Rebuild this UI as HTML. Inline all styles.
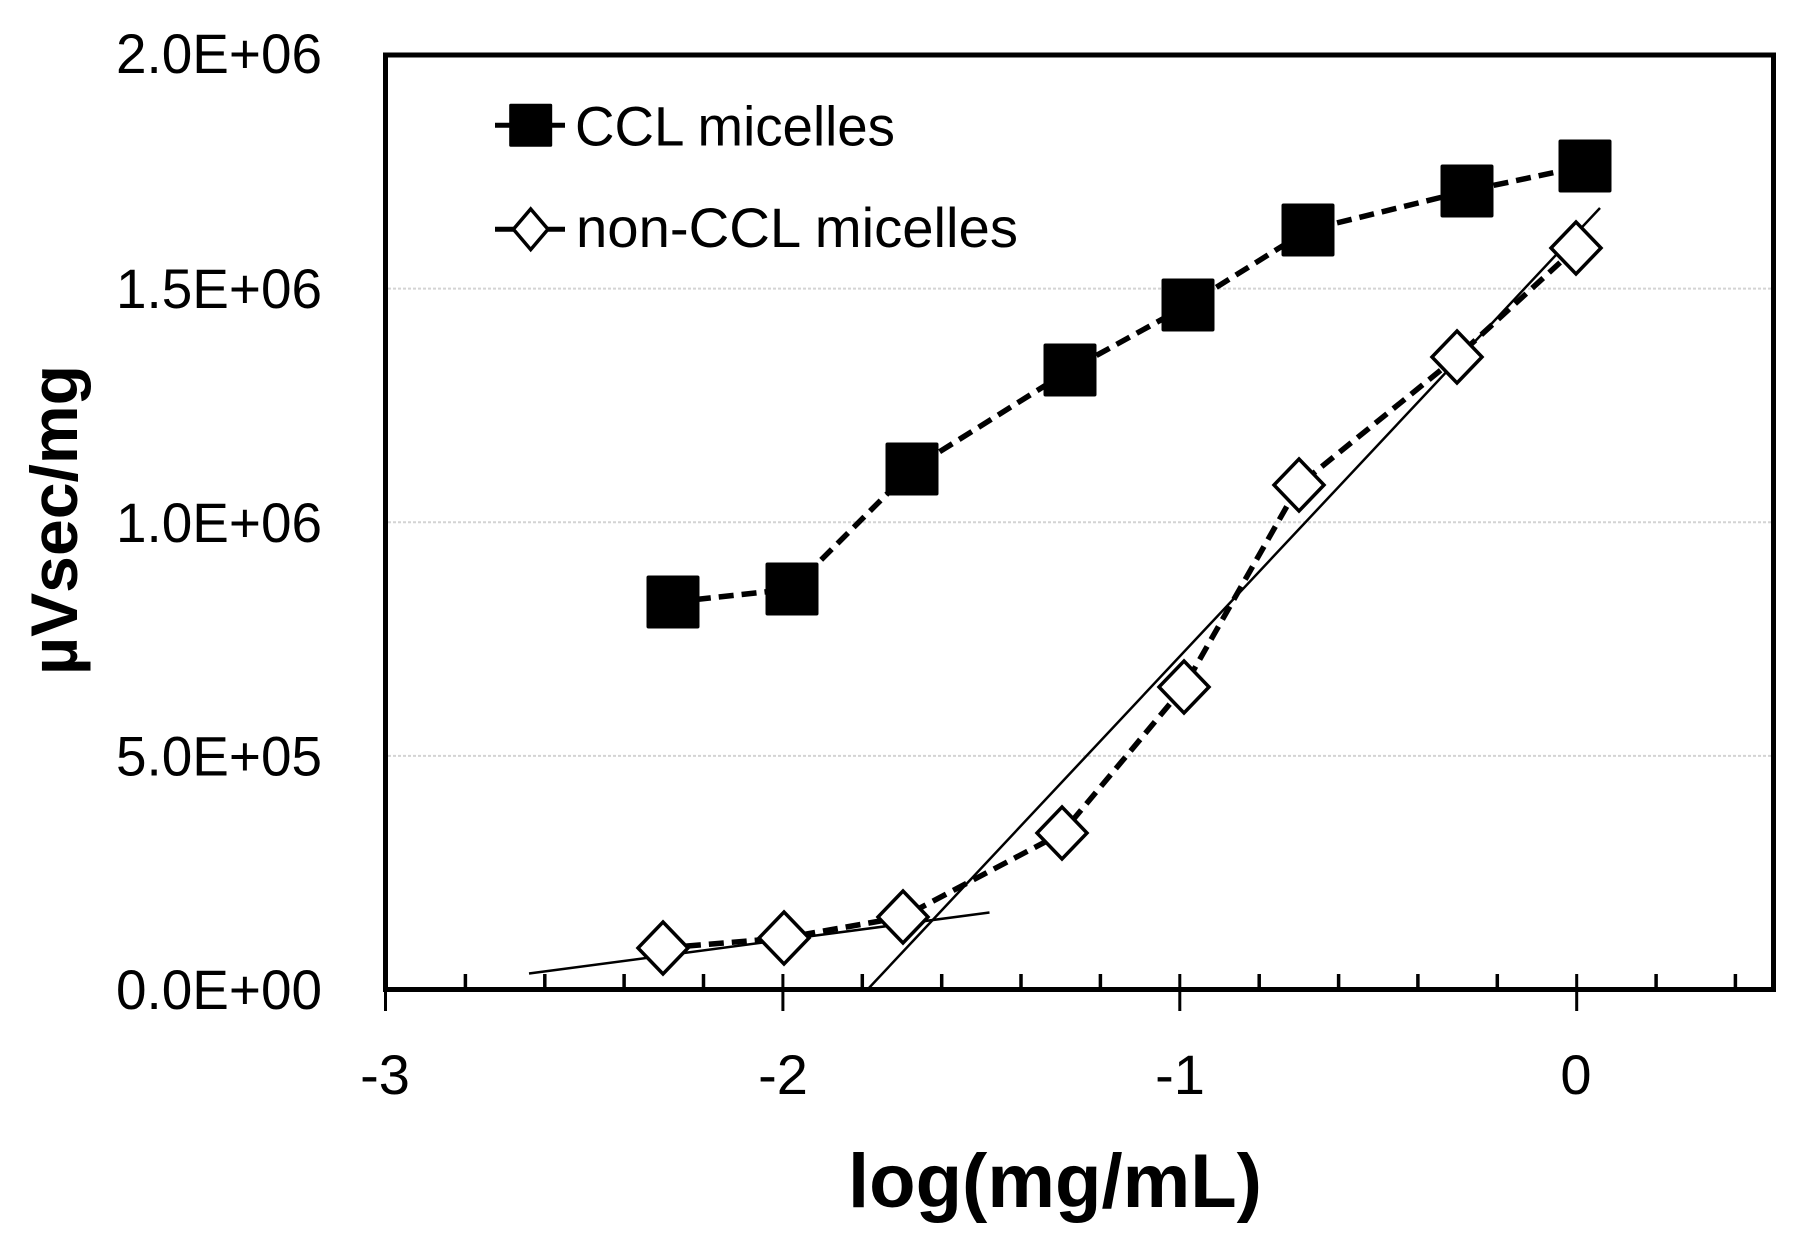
<!DOCTYPE html>
<html>
<head>
<meta charset="utf-8">
<style>
  html, body { margin: 0; padding: 0; background: #ffffff; }
  svg { display: block; }
  text { font-family: "Liberation Sans", "DejaVu Sans", sans-serif; fill: #000; }
</style>
</head>
<body>
<svg width="1797" height="1244" viewBox="0 0 1797 1244" xmlns="http://www.w3.org/2000/svg">
  <rect x="0" y="0" width="1797" height="1244" fill="#ffffff"/>

  <!-- gridlines -->
  <g stroke="#d4d4d4" stroke-width="2" stroke-dasharray="3 2">
    <line x1="388" y1="288.6" x2="1771" y2="288.6"/>
    <line x1="388" y1="522.2" x2="1771" y2="522.2"/>
    <line x1="388" y1="755.9" x2="1771" y2="755.9"/>
  </g>

  <!-- minor ticks (inside, above axis) -->
  <g stroke="#000" stroke-width="3.5">
    <line x1="465.4" y1="974" x2="465.4" y2="989"/>
    <line x1="544.8" y1="974" x2="544.8" y2="989"/>
    <line x1="624.1" y1="974" x2="624.1" y2="989"/>
    <line x1="703.5" y1="974" x2="703.5" y2="989"/>
    <line x1="862.3" y1="974" x2="862.3" y2="989"/>
    <line x1="941.7" y1="974" x2="941.7" y2="989"/>
    <line x1="1021.0" y1="974" x2="1021.0" y2="989"/>
    <line x1="1100.4" y1="974" x2="1100.4" y2="989"/>
    <line x1="1259.2" y1="974" x2="1259.2" y2="989"/>
    <line x1="1338.6" y1="974" x2="1338.6" y2="989"/>
    <line x1="1417.9" y1="974" x2="1417.9" y2="989"/>
    <line x1="1497.3" y1="974" x2="1497.3" y2="989"/>
    <line x1="1656.1" y1="974" x2="1656.1" y2="989"/>
    <line x1="1735.4" y1="974" x2="1735.4" y2="989"/>
  </g>
  <!-- major ticks (crossing) -->
  <g stroke="#000" stroke-width="3">
    <line x1="385.5" y1="974" x2="385.5" y2="1011"/>
    <line x1="782.9" y1="974" x2="782.9" y2="1011"/>
    <line x1="1179.8" y1="974" x2="1179.8" y2="1011"/>
    <line x1="1576.7" y1="974" x2="1576.7" y2="1011"/>
  </g>

  <!-- plot frame -->
  <rect x="385.5" y="55" width="1388" height="934.5" fill="none" stroke="#000" stroke-width="5"/>

  <!-- linear fit lines -->
  <g stroke="#000" stroke-width="2.5" fill="none">
    <line x1="529" y1="973.5" x2="989.5" y2="912.5"/>
    <line x1="868" y1="989" x2="1600" y2="208"/>
  </g>

  <!-- CCL series dashed line -->
  <polyline fill="none" stroke="#000" stroke-width="5.5" stroke-dasharray="15 8"
    points="673,602 792,589 912,469 1070,370 1188,305 1308,230 1467,191 1585,166"/>
  <!-- non-CCL series dashed line -->
  <polyline fill="none" stroke="#000" stroke-width="5.5" stroke-dasharray="15 8"
    points="663,948 784,938 903,917 1062,833 1184,687 1299,485 1457,357 1576,248"/>

  <!-- CCL squares -->
  <g fill="#000">
    <rect x="646.5" y="575.5" width="53" height="53" rx="2"/>
    <rect x="765.5" y="562.5" width="53" height="53" rx="2"/>
    <rect x="885.5" y="442.5" width="53" height="53" rx="2"/>
    <rect x="1043.5" y="343.5" width="53" height="53" rx="2"/>
    <rect x="1161.5" y="278.5" width="53" height="53" rx="2"/>
    <rect x="1281.5" y="203.5" width="53" height="53" rx="2"/>
    <rect x="1440.5" y="164.5" width="53" height="53" rx="2"/>
    <rect x="1558.5" y="139.5" width="53" height="53" rx="2"/>
  </g>

  <!-- non-CCL diamonds -->
  <g fill="#fff" stroke="#000" stroke-width="3.5" stroke-linejoin="miter">
    <path d="M663,922 L688,948 L663,974 L638,948 Z"/>
    <path d="M784,912 L809,938 L784,964 L759,938 Z"/>
    <path d="M903,891 L928,917 L903,943 L878,917 Z"/>
    <path d="M1062,807 L1087,833 L1062,859 L1037,833 Z"/>
    <path d="M1184,661 L1209,687 L1184,713 L1159,687 Z"/>
    <path d="M1299,459 L1324,485 L1299,511 L1274,485 Z"/>
    <path d="M1457,331 L1482,357 L1457,383 L1432,357 Z"/>
    <path d="M1576,222 L1601,248 L1576,274 L1551,248 Z"/>
  </g>

  <!-- legend -->
  <line x1="495" y1="125.3" x2="565" y2="125.3" stroke="#000" stroke-width="5"/>
  <rect x="509.2" y="103.8" width="43" height="43" fill="#000" rx="1.5"/>
  <line x1="495" y1="229.3" x2="565" y2="229.3" stroke="#000" stroke-width="5"/>
  <path d="M530.7,209 L548,229.3 L530.7,249.6 L513.4,229.3 Z" fill="#fff" stroke="#000" stroke-width="3.5"/>
  <text x="575" y="145.5" font-size="56" textLength="320" lengthAdjust="spacingAndGlyphs">CCL micelles</text>
  <text x="576" y="247" font-size="56" textLength="442" lengthAdjust="spacingAndGlyphs">non-CCL micelles</text>

  <!-- y tick labels -->
  <g font-size="56" text-anchor="end">
    <text x="322" y="73" textLength="206" lengthAdjust="spacingAndGlyphs">2.0E+06</text>
    <text x="322" y="308" textLength="206" lengthAdjust="spacingAndGlyphs">1.5E+06</text>
    <text x="322" y="542" textLength="206" lengthAdjust="spacingAndGlyphs">1.0E+06</text>
    <text x="322" y="775.5" textLength="206" lengthAdjust="spacingAndGlyphs">5.0E+05</text>
    <text x="322" y="1009" textLength="206" lengthAdjust="spacingAndGlyphs">0.0E+00</text>
  </g>

  <!-- x tick labels -->
  <g font-size="56" text-anchor="middle">
    <text x="385" y="1094">-3</text>
    <text x="783" y="1094">-2</text>
    <text x="1180" y="1094">-1</text>
    <text x="1576" y="1094">0</text>
  </g>

  <!-- axis titles -->
  <text x="1055" y="1207" font-size="76" font-weight="bold" text-anchor="middle" textLength="414" lengthAdjust="spacingAndGlyphs">log(mg/mL)</text>
  <text transform="translate(77,520) rotate(-90)" x="0" y="0" font-size="66" font-weight="bold" text-anchor="middle" textLength="310" lengthAdjust="spacingAndGlyphs">µVsec/mg</text>
</svg>
</body>
</html>
